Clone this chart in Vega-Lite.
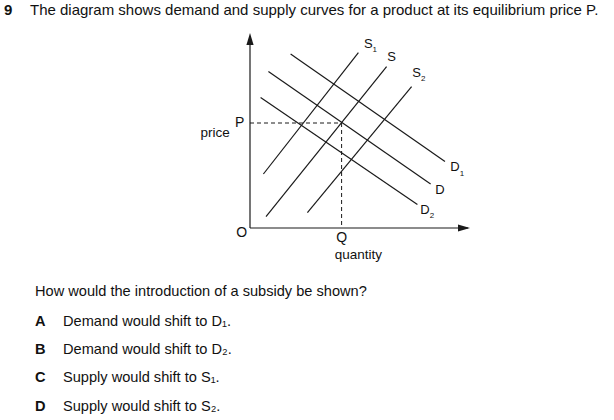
{
  "$schema": "https://vega.github.io/schema/vega-lite/v6.json",
  "width": 614,
  "height": 420,
  "autosize": {"type": "fit", "contains": "padding"},
  "padding": 0,
  "background": "white",
  "config": {"view": {"stroke": null}, "text": {"font": "Liberation Sans", "color": "#111"}},
  "datasets": {
    "lines": [
      {"name": "y axis", "kind": "axis", "q1": 0, "p1": 0, "q2": 0, "p2": 96},
      {"name": "x axis", "kind": "axis", "q1": 0, "p1": 0, "q2": 109, "p2": 0},
      {"name": "S1", "kind": "curve", "q1": 6.7, "p1": 27, "q2": 54.2, "p2": 87.7},
      {"name": "S", "kind": "curve", "q1": 8, "p1": 5.7, "q2": 68.3, "p2": 80.7},
      {"name": "S2", "kind": "curve", "q1": 28.7, "p1": 7.7, "q2": 80.8, "p2": 70.7},
      {"name": "D1", "kind": "curve", "q1": 20.3, "p1": 87, "q2": 97.5, "p2": 33.2},
      {"name": "D", "kind": "curve", "q1": 9.2, "p1": 78.2, "q2": 90.3, "p2": 22},
      {"name": "D2", "kind": "curve", "q1": 5.3, "p1": 65.2, "q2": 83.7, "p2": 11.8},
      {"name": "P guide", "kind": "guide", "q1": 0, "p1": 52.5, "q2": 45.8, "p2": 52.5},
      {"name": "Q guide", "kind": "guide", "q1": 45.8, "p1": 52.5, "q2": 45.8, "p2": 0}
    ],
    "arrows": [
      {"name": "y arrow", "q": 0, "p": 94.5, "dir": "up"},
      {"name": "x arrow", "q": 107, "p": 0, "dir": "right"}
    ],
    "labels": [
      {"text": "O", "q": -4.15, "p": -2.65, "size": 14},
      {"text": "Q", "q": 45.85, "p": -5.15, "size": 14},
      {"text": "quantity", "q": 54.15, "p": -13.5, "size": 13.5},
      {"text": "P", "q": -5.2, "p": 52.65, "size": 14},
      {"text": "price", "q": -17.5, "p": 47.35, "size": 13.5},
      {"text": "S", "q": 59.15, "p": 92, "size": 13},
      {"text": "S", "q": 70.85, "p": 85.65, "size": 13},
      {"text": "S", "q": 83.35, "p": 77.35, "size": 13},
      {"text": "D", "q": 102.5, "p": 30.65, "size": 13},
      {"text": "D", "q": 95, "p": 19, "size": 13},
      {"text": "D", "q": 87.5, "p": 9, "size": 13}
    ],
    "subscripts": [
      {"text": "1", "q": 61.3, "p": 89},
      {"text": "2", "q": 85.5, "p": 74.5},
      {"text": "1", "q": 104.9, "p": 27.2},
      {"text": "2", "q": 89.9, "p": 5.8}
    ],
    "body": [
      {"text": "The diagram shows demand and supply curves for a product at its equilibrium price P.", "q": -110, "p": 109, "size": 15},
      {"text": "How would the introduction of a subsidy be shown?", "q": -107.5, "p": -31.85, "size": 14.6},
      {"text": "Demand would shift to D₁.", "q": -93.5, "p": -46.85, "size": 14.6},
      {"text": "Demand would shift to D₂.", "q": -93.5, "p": -61, "size": 14.6},
      {"text": "Supply would shift to S₁.", "q": -93.5, "p": -75, "size": 14.6},
      {"text": "Supply would shift to S₂.", "q": -93.5, "p": -89.35, "size": 14.6}
    ],
    "bold": [
      {"text": "9", "q": -123, "p": 109, "size": 15},
      {"text": "A", "q": -107.5, "p": -46.85, "size": 14.6},
      {"text": "B", "q": -107.5, "p": -61, "size": 14.6},
      {"text": "C", "q": -107.5, "p": -75, "size": 14.6},
      {"text": "D", "q": -107.5, "p": -89.35, "size": 14.6}
    ]
  },
  "encoding": {
    "x": {"field": "q", "type": "quantitative", "scale": {"domain": [-125, 182], "nice": false, "zero": false}, "axis": null},
    "y": {"field": "p", "type": "quantitative", "scale": {"domain": [-96, 114], "nice": false, "zero": false}, "axis": null}
  },
  "layer": [
    {
      "data": {"name": "lines"},
      "transform": [{"filter": "datum.kind !== 'guide'"}],
      "mark": {"type": "rule", "color": "#1a1a1a", "strokeWidth": 1.2},
      "encoding": {
        "x": {"field": "q1", "type": "quantitative", "scale": {"domain": [-125, 182], "nice": false, "zero": false}, "axis": null},
        "y": {"field": "p1", "type": "quantitative", "scale": {"domain": [-96, 114], "nice": false, "zero": false}, "axis": null},
        "x2": {"field": "q2"},
        "y2": {"field": "p2"}
      }
    },
    {
      "data": {"name": "lines"},
      "transform": [{"filter": "datum.kind === 'guide'"}],
      "mark": {"type": "rule", "color": "#1a1a1a", "strokeWidth": 1, "strokeDash": [4, 3]},
      "encoding": {
        "x": {"field": "q1", "type": "quantitative", "scale": {"domain": [-125, 182], "nice": false, "zero": false}, "axis": null},
        "y": {"field": "p1", "type": "quantitative", "scale": {"domain": [-96, 114], "nice": false, "zero": false}, "axis": null},
        "x2": {"field": "q2"},
        "y2": {"field": "p2"}
      }
    },
    {
      "data": {"name": "arrows"},
      "transform": [{"filter": "datum.dir === 'up'"}],
      "mark": {"type": "point", "filled": true, "color": "#1a1a1a", "opacity": 1, "size": 144, "shape": "M0,-1L0.6,1L-0.6,1Z"}
    },
    {
      "data": {"name": "arrows"},
      "transform": [{"filter": "datum.dir === 'right'"}],
      "mark": {"type": "point", "filled": true, "color": "#1a1a1a", "opacity": 1, "size": 144, "shape": "M1,0L-1,0.6L-1,-0.6Z"}
    },
    {
      "data": {"name": "labels"},
      "mark": {"type": "text", "align": "center", "baseline": "middle"},
      "encoding": {"text": {"field": "text"}, "size": {"field": "size", "type": "quantitative", "scale": null}}
    },
    {
      "data": {"name": "subscripts"},
      "mark": {"type": "text", "fontSize": 8, "align": "left", "baseline": "middle"},
      "encoding": {"text": {"field": "text"}}
    },
    {
      "data": {"name": "body"},
      "mark": {"type": "text", "align": "left", "baseline": "middle"},
      "encoding": {"text": {"field": "text"}, "size": {"field": "size", "type": "quantitative", "scale": null}}
    },
    {
      "data": {"name": "bold"},
      "mark": {"type": "text", "fontWeight": "bold", "align": "left", "baseline": "middle"},
      "encoding": {"text": {"field": "text"}, "size": {"field": "size", "type": "quantitative", "scale": null}}
    }
  ]
}
